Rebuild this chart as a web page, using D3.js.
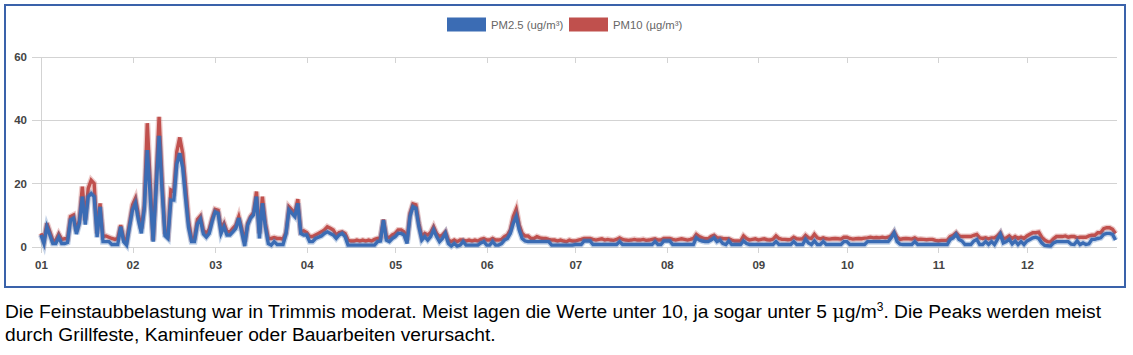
<!DOCTYPE html>
<html><head><meta charset="utf-8">
<script src="https://cdn.jsdelivr.net/npm/d3@7"></script>
<style>
html,body{margin:0;padding:0;background:#fff;}
svg{display:block;}
</style></head><body>
<svg id="c" width="1133" height="355"></svg>
<script>
const year = 2019;
const monthLabels = ["01","02","03","04","05","06","07","08","09","10","11","12"];
const yTicks = [0, 20, 40, 60];
const seriesNames = ["PM2.5 (ug/m³)", "PM10 (µg/m³)"];

// PM2.5 daily values per month
const pm25_01 = [3.7,1,6.3,3.7,1,1,3,1,1,1.3,8.4,9,4,7.4,15.8,7,15.8,16.8,15.8,3,12.6,1.6,1.6,1.6,0.7,0.7,0.7,6.3,1.6,0.5,6.3];
const pm25_02 = [11.6,13.7,8.4,4.2,12,30.5,16,1.6,18,35,18,3.5,2.6,14.7,14.7,26,29.5,25,15,6,1.6,1.6,7.2,8.6,4,3,4.2,8];
const pm25_03 = [11,10.5,4.2,6.3,3.7,3.7,4.7,5.8,9,4.7,0.2,6.8,9,10,15.8,2.6,13.7,6.3,1,0.5,1.6,0.7,0.7,0.7,4,11.6,10.5,9.5,13.7,4.2,3.7];
const pm25_04 = [3.7,1.6,1.6,2.6,3,3.4,4.2,4.7,4.2,3.7,2.6,3.7,4.2,3.2,0.5,0.5,0.5,0.5,0.5,0.5,0.5,0.5,0.5,0.5,1.6,1.8,8.4,2.1,1.6,2.6];
const pm25_05 = [3.2,4.2,4.2,3.7,1,9.5,12.6,12.1,6.3,2.1,3.2,2.1,3.2,5.3,3.2,1.6,2.6,4.2,1,0.2,1,0.2,0.5,1.6,0.5,0.5,0.5,0.5,0.5,1.2,1.6];
const pm25_06 = [0.5,0.5,1.6,0.5,0.5,1,2.1,2.6,4.2,7.4,9.5,5.3,2.6,1.8,1.6,1.6,1.6,1.6,1.6,1.6,1.6,1.6,0.5,0.5,0.5,0.5,0.5,0.5,0.5,0.5];
const pm25_07 = [0.7,0.7,0.7,1.8,1.8,1.8,0.7,0.7,0.7,0.7,0.7,0.7,0.7,0.7,0.7,1.6,0.7,0.7,0.7,0.7,0.7,0.7,0.7,0.7,0.7,0.7,0.7,1.6,0.7,0.7,1.8];
const pm25_08 = [1.8,1.8,0.7,0.7,0.7,0.7,0.7,0.7,0.7,0.7,2.8,2.1,1.8,1.6,1.6,2.1,2.8,1.6,2.1,1.0,0.7,1.8,0.7,0.7,0.7,0.7,1.8,1.0,0.7,0.7,0.7];
const pm25_09 = [0.7,0.7,0.7,0.7,0.7,0.7,1.6,0.7,0.7,0.7,0.7,0.7,1.6,0.7,0.7,0.7,2.3,1.2,0.7,1.8,0.7,0.7,1.6,0.7,0.7,0.7,0.7,0.7,0.7,1.6];
const pm25_10 = [1.6,0.7,0.7,0.7,0.7,0.7,0.7,1.6,1.6,1.6,1.6,1.6,1.6,1.6,1.6,2.8,4.4,1.6,0.8,0.7,0.7,0.7,0.7,1.6,0.7,0.7,0.7,0.7,0.7,0.7,0.7];
const pm25_11 = [0.7,0.7,0.7,0.7,2.3,2.8,3.9,2.3,1.8,0.7,0.7,0.7,1.8,2.3,0.7,0.7,1.6,0.7,1.6,0.7,2.3,3.9,1.2,1.6,2.3,0.9,1.8,0.7,1.6,0.7];
const pm25_12 = [1.8,2.3,2.8,3.0,2.6,1.2,0.4,0.3,0.2,1.2,1.6,1.6,1.6,1.6,1.6,0.8,0.7,1.8,0.7,1.2,0.7,0.9,2.3,2.3,2.6,2.8,3.9,4.2,4.2,3.9,2.1];

// PM10 daily values per month
const pm10_01 = [4.2,2,7.4,4.7,2,2,4,2.3,2.5,2.5,9.5,10,5,8.4,19,8.4,18.4,21,20,4.2,13.7,3.2,3.4,3,2.6,2.3,2.6,6.8,2.6,2,7.4];
const pm10_02 = [13.2,15.3,10,5.8,13,39,20,2,21,41,21,4.5,3.6,17.9,17.4,30,34.5,29.5,19,8,2.6,2.8,8.6,9.7,5.2,4.2,5.5,9];
const pm10_03 = [11.8,11.5,5.8,7.4,4.7,4.7,5.8,6.8,9.5,5.8,1.6,7.4,9.5,10.8,17.4,4.2,15.8,7.4,2.6,2.6,2.9,2.6,2.6,2.4,4.5,12.6,11.6,10.5,15,4.7,5];
const pm10_04 = [4.5,3.2,3.2,3.7,4.2,4.7,5.3,6.3,5.8,5.3,3.7,4.5,4.7,4.2,2.1,1.8,1.8,2.1,1.8,2.1,1.8,2.1,1.8,2.3,2.6,2.8,8.6,3.2,2.8,3.7];
const pm10_05 = [4.2,5.3,5.3,4.7,2.1,10.5,13.5,13.2,7.4,3.2,4.2,3.7,4.5,6.3,4.2,3.2,3.7,4.7,2.1,1.6,2.1,1.6,2.1,2.1,1.8,2.1,1.8,2.1,1.8,2.3,2.6];
const pm10_06 = [2.1,2.1,2.6,2.1,2.1,2.3,3.2,3.7,5.3,9.5,11.8,6.8,4.2,3.4,3.4,2.6,2.6,3.2,2.8,2.6,2.6,2.3,2.1,2.1,1.8,2.1,1.8,1.6,2.1,1.8];
const pm10_07 = [1.8,2.1,2.3,2.6,2.6,2.6,2.3,2.1,2.3,2.5,2.1,2.3,2.1,2.0,2.3,2.8,2.3,2.1,2.0,2.1,2.3,2.1,2.1,2.3,2.0,2.1,2.3,2.5,2.1,2.1,2.6];
const pm10_08 = [2.6,2.6,2.3,2.1,2.3,2.5,2.3,2.1,2.3,2.6,3.9,3.2,2.8,2.5,2.5,3.2,3.6,2.8,2.8,2.6,2.5,2.5,2.1,1.8,1.8,1.8,3.4,2.6,2.1,2.3,2.5];
const pm10_09 = [2.1,2.3,2.5,2.2,2.1,2.4,3.4,2.6,2.3,2.3,2.2,2.3,3.0,2.5,2.4,2.5,3.6,2.8,2.6,3.9,2.8,2.5,2.8,2.5,2.4,2.5,2.6,2.5,2.4,3.0];
const pm10_10 = [3.0,2.6,2.4,2.5,2.6,2.5,2.7,2.8,3.0,2.8,2.9,2.8,3.0,2.8,3.0,3.4,4.6,3.0,2.3,2.5,2.6,2.5,2.4,2.8,2.3,2.4,2.3,2.2,2.3,2.3,2.0];
const pm10_11 = [1.8,2.0,2.0,2.0,3.2,3.6,4.4,3.4,3.2,3.2,3.2,3.2,3.6,3.9,2.8,2.6,2.8,2.5,2.8,2.8,3.4,4.4,2.5,2.8,3.4,2.6,3.2,2.6,3.0,2.6];
const pm10_12 = [3.4,3.9,4.4,4.4,4.6,3.0,2.1,1.6,1.5,2.5,3.2,3.2,3.2,3.4,3.0,3.2,3.2,2.8,3.0,3.0,3.0,3.4,3.6,3.6,4.4,4.4,5.7,6.0,6.0,5.5,4.2];

const captionLine1a = "Die Feinstaubbelastung war in Trimmis moderat. Meist lagen die Werte unter 10, ja sogar unter 5 ";
const captionMu = "μ";
const captionLine1b = "g/m";
const captionSup = "3";
const captionLine1c = ". Die Peaks werden meist";
const captionLine2 = "durch Grillfeste, Kaminfeuer oder Bauarbeiten verursacht.";

const pm25 = [].concat(pm25_01,pm25_02,pm25_03,pm25_04,pm25_05,pm25_06,pm25_07,pm25_08,pm25_09,pm25_10,pm25_11,pm25_12);
const pm10 = [].concat(pm10_01,pm10_02,pm10_03,pm10_04,pm10_05,pm10_06,pm10_07,pm10_08,pm10_09,pm10_10,pm10_11,pm10_12);
const start = new Date(year, 0, 1);
const toPts = arr => arr.map((v, i) => ({date: d3.timeDay.offset(start, i), v}));

const blue = "#3b6cb4", red = "#c0504d", grid = "#d3d3d3";
const svg = d3.select("#c");

const x = d3.scaleTime().domain([start, new Date(year, 11, 31)]).range([41, 1115.5]);
const y = d3.scaleLinear().domain([0, 60]).range([246.7, 56.7]);
const gridL = 32, gridR = 1117;

// border
svg.append("rect").attr("x", 5).attr("y", 5).attr("width", 1120).attr("height", 282)
  .attr("fill", "none").attr("stroke", "#3a62aa").attr("stroke-width", 2);

// y axis + gridlines
const yAxis = d3.axisLeft(y).tickValues(yTicks).tickSizeInner(-(gridR - gridL)).tickSizeOuter(0).tickPadding(5);
const gy = svg.append("g").attr("transform", `translate(${gridL},0)`).call(yAxis);
gy.select(".domain").remove();
gy.selectAll(".tick line").attr("stroke", grid).attr("shape-rendering", "crispEdges");
gy.selectAll(".tick text").attr("fill", "#444").attr("font-family", "Liberation Sans, Arial, sans-serif").attr("font-size", 11.5).attr("font-weight", "bold");

// vertical axis line
svg.append("line").attr("x1", x(start)).attr("x2", x(start)).attr("y1", y(60)).attr("y2", y(0))
  .attr("stroke", grid).attr("shape-rendering", "crispEdges");

const monthDates = monthLabels.map((m, i) => new Date(year, i, 1));
// bottom axis
const xAxis = d3.axisBottom(x).tickValues(monthDates).tickFormat((d, i) => monthLabels[i]).tickSizeInner(6).tickSizeOuter(0).tickPadding(8);
const gx = svg.append("g").attr("transform", `translate(0,${y(0)})`).call(xAxis);
gx.select(".domain").remove();
gx.selectAll(".tick line").attr("stroke", grid).attr("shape-rendering", "crispEdges");
gx.selectAll(".tick text").attr("fill", "#444").attr("font-family", "Liberation Sans, Arial, sans-serif").attr("font-size", 11.5).attr("font-weight", "bold");

// top tick marks
const xTop = d3.axisTop(x).tickValues(monthDates).tickFormat("").tickSizeInner(-6).tickSizeOuter(0);
const gt = svg.append("g").attr("transform", `translate(0,${y(60)})`).call(xTop);
gt.select(".domain").remove();
gt.selectAll(".tick line").attr("stroke", grid).attr("shape-rendering", "crispEdges");

// lines
const line = d3.line().x(d => x(d.date)).y(d => y(d.v));
const series = [{data: toPts(pm10), color: red}, {data: toPts(pm25), color: blue}];
series.forEach(s => {
  svg.append("path").datum(s.data).attr("d", line).attr("fill", "none")
    .attr("stroke", s.color).attr("stroke-opacity", 0.3).attr("stroke-width", 6).attr("stroke-linejoin", "miter");
  svg.append("path").datum(s.data).attr("d", line).attr("fill", "none")
    .attr("stroke", s.color).attr("stroke-width", 3.4).attr("stroke-linejoin", "miter");
});

// legend
const legend = [{name: seriesNames[0], color: blue, x: 447}, {name: seriesNames[1], color: red, x: 569}];
legend.forEach(l => {
  svg.append("rect").attr("x", l.x).attr("y", 17.5).attr("width", 39).attr("height", 14).attr("fill", l.color);
  svg.append("text").attr("x", l.x + 44).attr("y", 28.5).text(l.name)
    .attr("font-family", "Liberation Sans, Arial, sans-serif").attr("font-size", 11.3).attr("fill", "#666");
});

// caption
const cap = svg.append("g").attr("font-family", "Liberation Sans, Arial, sans-serif").attr("font-size", 19.2).attr("fill", "#000");
const t1 = cap.append("text").attr("x", 5).attr("y", 318);
t1.append("tspan").text(captionLine1a);
t1.append("tspan").text(captionMu).attr("font-family", "DejaVu Serif, serif");
t1.append("tspan").text(captionLine1b);
t1.append("tspan").text(captionSup).attr("font-size", 12).attr("dy", -7);
t1.append("tspan").text(captionLine1c).attr("dy", 7);
cap.append("text").attr("x", 5).attr("y", 341).text(captionLine2);
</script>
</body></html>
